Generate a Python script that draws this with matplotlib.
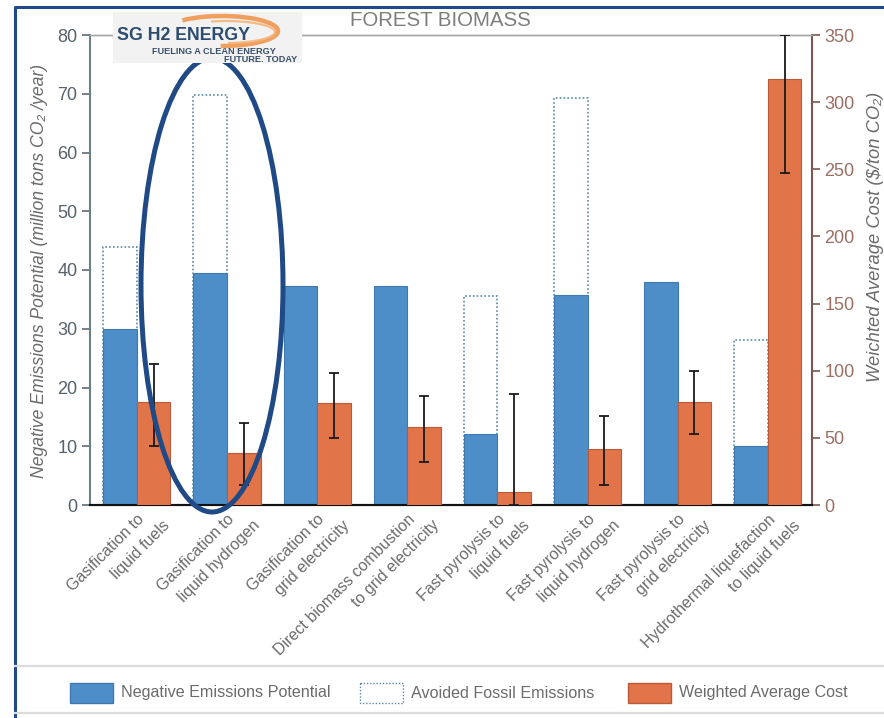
import numpy as np
import matplotlib
matplotlib.use("Agg")
import matplotlib.pyplot as plt
from matplotlib.patches import Rectangle, Ellipse, Arc

plt.rcParams['font.family'] = ['Liberation Sans', 'DejaVu Sans']

# pathways (forest biomass)
pathways = [
    "Gasification to\nliquid fuels",
    "Gasification to\nliquid hydrogen",
    "Gasification to\ngrid electricity",
    "Direct biomass combustion\nto grid electricity",
    "Fast pyrolysis to\nliquid fuels",
    "Fast pyrolysis to\nliquid hydrogen",
    "Fast pyrolysis to\ngrid electricity",
    "Hydrothermal liquefaction\nto liquid fuels",
]
# million tons CO2 / year
negative_emissions = [30.0, 39.5, 37.2, 37.2, 12.1, 35.7, 38.0, 10.0]
avoided_fossil = [44.0, 69.8, 0.0, 0.0, 35.5, 69.3, 0.0, 28.1]
# $ / ton CO2
weighted_cost = [77, 39, 76, 58, 10, 42, 77, 317]
cost_low = [44, 15, 50, 32, 0, 15, 53, 247]
cost_high = [105, 61, 98, 81, 83, 66, 100, 350]

BLUE = '#4d8ec8'
BLUE_EDGE = '#3f79ad'
ORANGE = '#e2744a'
ORANGE_EDGE = '#b95a38'
GREY = '#6b6b6b'
NAVY = '#1f4a85'

W, H = 884, 718
fig = plt.figure(figsize=(W / 100, H / 100), dpi=100)
ax = fig.add_axes([90 / W, 1 - 505 / H, (812 - 90) / W, (505 - 35) / H])
ax2 = ax.twinx()

x = np.arange(len(pathways))
bw = 0.372

# avoided emissions drawn as dotted outlines behind the solid bars
avoided = np.array(avoided_fossil)
has_avoided = avoided > 0
ax.bar(x[has_avoided] - bw / 2, avoided[has_avoided], width=bw, fill=False,
       edgecolor='#5a8aa8', linestyle=(0, (1, 1.3)), linewidth=1.2, zorder=2)
ax.bar(x - bw / 2, negative_emissions, width=bw, color=BLUE,
       edgecolor=BLUE_EDGE, linewidth=0.8, zorder=3)

cost = np.array(weighted_cost)
yerr = [cost - np.array(cost_low), np.array(cost_high) - cost]
ax2.bar(x + bw / 2, cost, width=bw, color=ORANGE, edgecolor=ORANGE_EDGE,
        linewidth=0.8, zorder=3)
ax2.errorbar(x + bw / 2, cost, yerr=yerr, fmt='none', ecolor='#1a1a1a',
             elinewidth=1.3, capsize=3.5, capthick=1.3, zorder=4)

ax.set_xlim(-0.52, 7.49)
ax.set_ylim(0, 80)
ax2.set_ylim(0, 350)
ax.set_yticks(range(0, 81, 10))
ax2.set_yticks(range(0, 351, 50))
ax.set_xticks([])

# two-line category labels, each line rotated on its own anchor
for xi, name in zip(x, pathways):
    first, second = name.split("\n")
    for line, (dx, dy) in zip((first, second), ((5, -12), (30, -18))):
        ax.annotate(line, xy=(xi, 0), xycoords='data', xytext=(dx, dy),
                    textcoords='offset pixels', rotation=45,
                    rotation_mode='anchor', ha='right', va='center',
                    fontsize=11.5, color=GREY, annotation_clip=False)

ax.tick_params(axis='y', colors='#5e6b74', labelsize=13, length=6, width=1.2,
               direction='out', pad=3)
ax2.tick_params(axis='y', colors='#7a5a50', labelsize=13, length=6, width=1.2,
                direction='out', pad=3)
for lab in ax2.get_yticklabels():
    lab.set_color('#9b6e62')
for lab in ax.get_yticklabels():
    lab.set_color('#56626b')

for a in (ax, ax2):
    a.spines['top'].set_color('#a8a8a8')
    a.spines['top'].set_linewidth(1.0)
    a.spines['bottom'].set_color('#111111')
    a.spines['bottom'].set_linewidth(1.5)
ax.spines['left'].set_color('#6f7f88')
ax.spines['left'].set_linewidth(1.5)
ax.spines['right'].set_visible(False)
ax2.spines['left'].set_visible(False)
ax2.spines['right'].set_color('#7a5a50')
ax2.spines['right'].set_linewidth(1.5)

fig.text(40 / W, 1 - 271 / H, "Negative Emissions Potential (million tons CO\u2082 /year)",
         rotation=90, fontsize=12.7, style='italic', color=GREY,
         ha='center', va='center')
fig.text(875 / W, 1 - 237 / H, "Weichted Average Cost ($/ton CO\u2082)",
         rotation=90, fontsize=13.2, style='italic', color=GREY,
         ha='center', va='center')
fig.text(440 / W, 1 - 20 / H, "FOREST BIOMASS", fontsize=14.7, color='#7d7d7d',
         ha='center', va='center')

# overlay in pixel coordinates: frame, highlight ring, logo, legend
ov = fig.add_axes([0, 0, 1, 1], zorder=10)
ov.set_xlim(0, W)
ov.set_ylim(H, 0)
ov.axis('off')
ov.patch.set_alpha(0)

ov.plot([15, 15, W], [H, 7, 7], color=NAVY, lw=2.2, solid_capstyle='butt')
ov.add_patch(Ellipse((212, 285), 142, 454, fill=False, edgecolor=NAVY, lw=3.6))

ov.add_patch(Rectangle((113, 12), 189, 51, facecolor='#f2f2f2', edgecolor='none', zorder=3))
ov.add_patch(Arc((222, 31), 112, 30, theta1=195, theta2=455,
                 color='#f0964e', lw=3.2, alpha=0.9, zorder=4))
ov.add_patch(Arc((226, 32), 98, 22, theta1=215, theta2=440,
                 color='#f6b57a', lw=1.6, alpha=0.9, zorder=4))
ov.text(117, 36, "SG H2 ENERGY", fontsize=12.8, fontweight='bold', color='#2c4d70',
        va='center', ha='left', zorder=5)
ov.text(276, 52, "FUELING A CLEAN ENERGY", fontsize=6.6, fontweight='bold',
        color='#3a4f6a', va='center', ha='right', zorder=5)
ov.text(297, 60, "FUTURE. TODAY", fontsize=6.6, fontweight='bold',
        color='#3a4f6a', va='center', ha='right', zorder=5)

ov.plot([15, W], [666, 666], color='#dcdcdc', lw=1.6)
ov.plot([15, W], [713, 713], color='#dcdcdc', lw=1.6)
legend_items = [
    (70, dict(facecolor=BLUE, edgecolor=BLUE_EDGE), "Negative Emissions Potential"),
    (360, dict(facecolor='white', edgecolor='#5a8aa8', linestyle=(0, (1, 1.3))), "Avoided Fossil Emissions"),
    (628, dict(facecolor=ORANGE, edgecolor=ORANGE_EDGE), "Weighted Average Cost"),
]
for lx, style, label in legend_items:
    ov.add_patch(Rectangle((lx, 683), 43, 20, lw=1.0, **style))
    ov.text(lx + 51, 693, label, fontsize=11.6, color=GREY, va='center', ha='left')

fig.savefig("out.png", dpi=100)
